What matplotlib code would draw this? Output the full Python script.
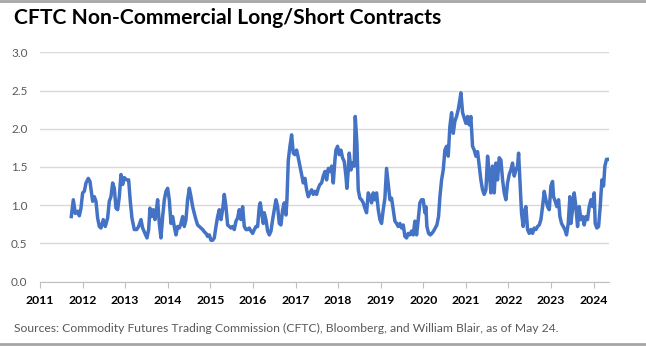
import numpy as np
import matplotlib as mpl
import matplotlib.pyplot as plt
from matplotlib.lines import Line2D

# decimal year / long-short ratio
years = [
    2011.735, 2011.782, 2011.829, 2011.884, 2011.923, 2011.962, 2012.001, 2012.040, 2012.080, 2012.134,
    2012.173, 2012.213, 2012.236, 2012.275, 2012.314, 2012.353, 2012.393, 2012.432, 2012.486, 2012.533,
    2012.588, 2012.627, 2012.666, 2012.706, 2012.745, 2012.784, 2012.823, 2012.862, 2012.901, 2012.940,
    2012.979, 2013.034, 2013.081, 2013.120, 2013.159, 2013.214, 2013.269, 2013.316, 2013.371, 2013.410,
    2013.465, 2013.512, 2013.551, 2013.582, 2013.621, 2013.660, 2013.699,
    2013.723, 2013.762, 2013.801, 2013.840, 2013.880, 2013.919, 2013.958, 2013.997, 2014.036, 2014.075,
    2014.114, 2014.153, 2014.193, 2014.232, 2014.271, 2014.310, 2014.349, 2014.388, 2014.427, 2014.466,
    2014.506, 2014.545, 2014.584, 2014.623, 2014.662, 2014.701, 2014.740, 2014.779, 2014.819, 2014.858,
    2014.897, 2014.936, 2014.975, 2015.014, 2015.053, 2015.092, 2015.132, 2015.171, 2015.210, 2015.249,
    2015.288, 2015.327, 2015.366, 2015.405, 2015.445, 2015.484, 2015.523, 2015.562, 2015.601, 2015.640,
    2015.679, 2015.719, 2015.758, 2015.797, 2015.836,
    2015.875, 2015.914, 2015.953, 2015.993, 2016.032, 2016.071, 2016.110, 2016.149, 2016.172, 2016.204,
    2016.243, 2016.266, 2016.305, 2016.345, 2016.384, 2016.423, 2016.462, 2016.501, 2016.540, 2016.579,
    2016.619, 2016.658, 2016.697, 2016.736, 2016.775, 2016.798, 2016.830, 2016.869, 2016.908, 2016.947,
    2016.986, 2017.025, 2017.064, 2017.104, 2017.143, 2017.182, 2017.221, 2017.260, 2017.299, 2017.338,
    2017.378, 2017.417, 2017.456, 2017.495, 2017.534, 2017.573, 2017.612, 2017.651, 2017.691, 2017.730,
    2017.769, 2017.808, 2017.847, 2017.886, 2017.925,
    2017.948, 2017.987, 2018.026, 2018.065, 2018.104, 2018.144, 2018.183, 2018.206, 2018.238, 2018.261,
    2018.300, 2018.339, 2018.378, 2018.402, 2018.441, 2018.472, 2018.511, 2018.550, 2018.590, 2018.629,
    2018.668, 2018.707, 2018.746, 2018.785, 2018.824, 2018.863, 2018.903, 2018.942, 2018.981, 2019.020,
    2019.059, 2019.098, 2019.137, 2019.177, 2019.216, 2019.255, 2019.294, 2019.333, 2019.372, 2019.411,
    2019.450, 2019.490, 2019.529, 2019.568, 2019.607, 2019.646, 2019.685, 2019.724, 2019.763, 2019.803,
    2019.842, 2019.881, 2019.920, 2019.959, 2019.998, 2020.037,
    2020.061, 2020.084, 2020.124, 2020.163, 2020.202, 2020.241, 2020.280, 2020.319, 2020.358, 2020.390,
    2020.429, 2020.468, 2020.507, 2020.546, 2020.585, 2020.624, 2020.664, 2020.703, 2020.742, 2020.781,
    2020.820, 2020.859, 2020.883, 2020.922, 2020.961, 2021.000, 2021.039, 2021.078, 2021.117, 2021.156,
    2021.196, 2021.235, 2021.274, 2021.313, 2021.352, 2021.391, 2021.430, 2021.470, 2021.509, 2021.548,
    2021.587, 2021.626, 2021.665, 2021.704, 2021.743, 2021.782, 2021.822, 2021.861, 2021.900, 2021.939,
    2021.978, 2022.017, 2022.056, 2022.095, 2022.135,
    2022.174, 2022.213, 2022.237, 2022.268, 2022.307, 2022.346, 2022.385, 2022.409, 2022.448, 2022.487,
    2022.526, 2022.565, 2022.604, 2022.643, 2022.683, 2022.722, 2022.761, 2022.800, 2022.839, 2022.878,
    2022.917, 2022.957, 2022.996, 2023.035, 2023.058, 2023.097, 2023.137, 2023.176, 2023.207, 2023.246,
    2023.285, 2023.324, 2023.363, 2023.403, 2023.442, 2023.465, 2023.504, 2023.543, 2023.582, 2023.622,
    2023.661, 2023.700, 2023.739, 2023.778, 2023.817, 2023.856, 2023.896, 2023.935, 2023.974, 2024.013,
    2024.036, 2024.075, 2024.115, 2024.154, 2024.193, 2024.232, 2024.263, 2024.302, 2024.349, 2024.388,
]
ratio = [
    0.85, 1.07, 0.89, 0.92, 0.86, 0.96, 1.16, 1.18, 1.29, 1.35,
    1.31, 1.14, 1.05, 1.11, 1.05, 0.83, 0.72, 0.70, 0.81, 0.72,
    0.83, 1.05, 1.11, 1.29, 1.22, 0.96, 0.94, 1.11, 1.40, 1.27,
    1.36, 1.33, 1.33, 1.05, 0.83, 0.68, 0.68, 0.72, 0.81, 0.70,
    0.63, 0.57, 0.68, 0.96, 0.85, 0.94, 0.81,
    0.89, 1.07, 0.76, 0.57, 0.85, 1.07, 1.18, 1.22, 1.07, 0.76,
    0.85, 0.72, 0.61, 0.72, 0.70, 0.76, 0.85, 0.72, 0.81, 1.07,
    1.22, 1.11, 0.98, 0.89, 0.81, 0.74, 0.72, 0.70, 0.68, 0.65,
    0.63, 0.59, 0.61, 0.54, 0.54, 0.57, 0.72, 0.85, 0.94, 0.81,
    0.94, 1.14, 0.98, 0.74, 0.72, 0.70, 0.72, 0.68, 0.79, 0.83,
    0.94, 0.81, 0.98, 0.72, 0.68,
    0.68, 0.70, 0.66, 0.63, 0.68, 0.72, 0.72, 0.98, 1.03, 0.90,
    0.76, 0.90, 0.81, 0.66, 0.61, 0.66, 0.81, 0.94, 1.07, 0.98,
    0.76, 0.74, 0.94, 1.03, 0.87, 1.07, 1.59, 1.77, 1.92, 1.68,
    1.66, 1.72, 1.62, 1.51, 1.40, 1.29, 1.35, 1.20, 1.11, 1.16,
    1.20, 1.14, 1.18, 1.14, 1.22, 1.27, 1.29, 1.38, 1.44, 1.33,
    1.48, 1.44, 1.51, 1.29, 1.59,
    1.72, 1.77, 1.66, 1.72, 1.62, 1.57, 1.38, 1.22, 1.46, 1.68,
    1.46, 1.55, 1.51, 2.16, 1.81, 1.20, 1.09, 1.07, 1.03, 0.96,
    0.90, 1.16, 1.11, 1.03, 1.16, 1.07, 1.16, 0.94, 0.81, 0.76,
    0.94, 1.09, 1.48, 1.27, 1.07, 1.09, 0.94, 0.79, 0.76, 0.72,
    0.76, 0.70, 0.74, 0.59, 0.57, 0.63, 0.61, 0.66, 0.61, 0.79,
    0.61, 0.81, 1.03, 1.07, 1.07, 0.90,
    0.98, 0.72, 0.63, 0.61, 0.63, 0.66, 0.70, 0.74, 0.85, 1.11,
    1.33, 1.46, 1.72, 1.77, 1.64, 2.03, 2.21, 1.94, 2.10, 2.16,
    2.25, 2.38, 2.47, 2.21, 2.14, 2.07, 2.16, 2.05, 2.16, 1.77,
    1.72, 1.64, 1.70, 1.51, 1.33, 1.20, 1.14, 1.20, 1.64, 1.42,
    1.16, 1.51, 1.16, 1.55, 1.33, 1.62, 1.59, 1.33, 1.16, 1.07,
    1.29, 1.40, 1.46, 1.55, 1.38,
    1.46, 1.51, 1.68, 1.33, 0.89, 0.72, 0.94, 0.98, 0.68, 0.63,
    0.68, 0.63, 0.70, 0.68, 0.72, 0.74, 0.81, 0.98, 1.18, 1.07,
    0.98, 0.94, 1.25, 1.31, 1.11, 1.05, 0.98, 1.07, 0.85, 0.76,
    0.72, 0.68, 0.61, 0.76, 1.11, 0.76, 0.94, 1.16, 0.98, 0.72,
    0.98, 0.81, 0.85, 0.74, 0.85, 0.81, 0.98, 1.07, 0.98, 1.16,
    0.76, 0.70, 0.72, 0.98, 1.33, 1.25, 1.51, 1.60, 1.60, 1.59,
]

year_ticks = list(range(2011, 2025))
y_ticks = [0.0, 0.5, 1.0, 1.5, 2.0, 2.5, 3.0]

title = "CFTC Non-Commercial Long/Short Contracts"
source = "Sources: Commodity Futures Trading Commission (CFTC), Bloomberg, and William Blair, as of May 24."

plt.rcParams['font.family'] = ['Lato', 'DejaVu Sans']

W, H = 646, 346
fig = plt.figure(figsize=(W / 100, H / 100), dpi=100)
ax = fig.add_axes([40 / W, 1 - 281.5 / H, 569 / W, 229.2 / H])

ax.plot(years, ratio, color='#4472C4', lw=2.5, solid_joinstyle='round', zorder=3)

ax.set_xlim(2011, 2024.36)
ax.set_ylim(0, 3.0)
ax.set_yticks(y_ticks)
ax.set_yticklabels([f"{v:.1f}" for v in y_ticks], color='#595959', fontsize=8.5)
ax.set_xticks(year_ticks)
ax.set_xticklabels([str(y) for y in year_ticks], fontweight='bold', fontsize=8.8, color='black')

ax.grid(axis='y', color='#d9d9d9', lw=1)
ax.set_axisbelow(True)
for s in ['top', 'right', 'left']:
    ax.spines[s].set_visible(False)
ax.spines['bottom'].set_color('#bfbfbf')
ax.tick_params(axis='y', length=0, pad=9)
ax.tick_params(axis='x', length=4, color='#bfbfbf', pad=6)

##title and footer
fig.text(14 / W, 1 - 18 / H, title, fontsize=15.2, fontweight='bold', va='center', ha='left')
fig.text(14 / W, 1 - 328 / H, source, fontsize=8.7, color='#595959', va='center', ha='left')

## border lines
fig.add_artist(Line2D([0, 1], [1 - 1 / H, 1 - 1 / H], color='#a6a6a6', lw=2))
fig.add_artist(Line2D([0, 1], [1 - 344 / H, 1 - 344 / H], color='#a6a6a6', lw=2))

fig.savefig('out.png', dpi=100)
